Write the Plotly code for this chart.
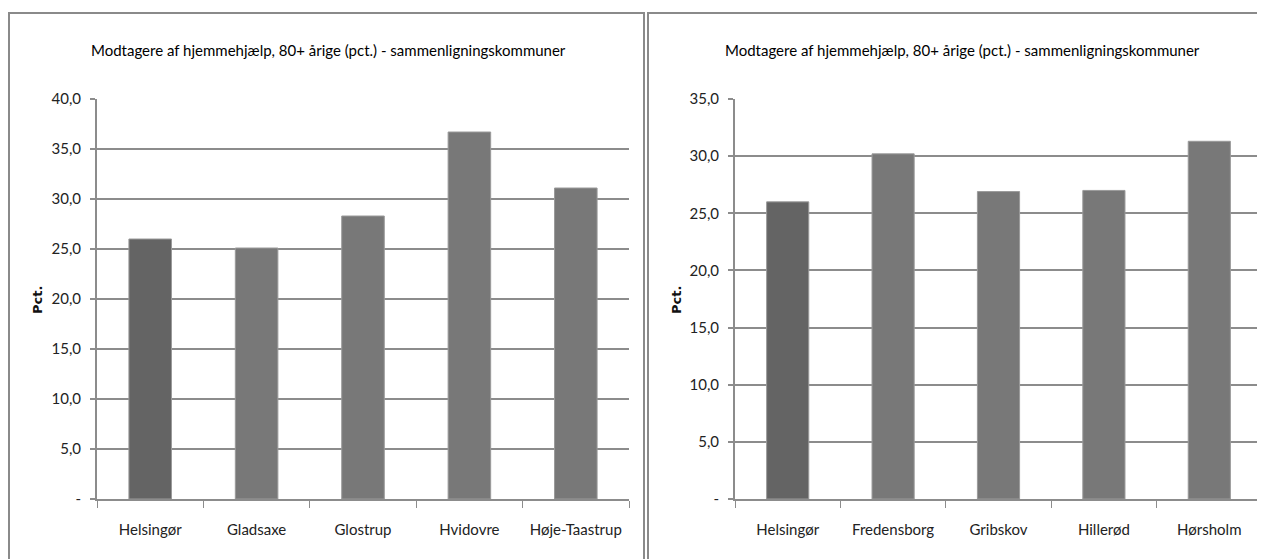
import plotly.graph_objects as go

# -------------------------------
# Data
# -------------------------------
title_text = "Modtagere af hjemmehjælp, 80+ årige (pct.) - sammenligningskommuner"

left_kommuner = ["Helsingør", "Gladsaxe", "Glostrup", "Hvidovre", "Høje-Taastrup"]
left_pct = [26.0, 25.1, 28.3, 36.7, 31.1]

right_kommuner = ["Helsingør", "Fredensborg", "Gribskov", "Hillerød", "Hørsholm"]
right_pct = [26.0, 30.2, 26.9, 27.0, 31.3]

left_ticks = [0, 5, 10, 15, 20, 25, 30, 35, 40]
left_ticktext = ["-", "5,0", "10,0", "15,0", "20,0", "25,0", "30,0", "35,0", "40,0"]
right_ticks = [0, 5, 10, 15, 20, 25, 30, 35]
right_ticktext = ["-", "5,0", "10,0", "15,0", "20,0", "25,0", "30,0", "35,0"]

# -------------------------------
# Style
# -------------------------------
# the page body has an 8px margin, so the figure is drawn 8px smaller and
# every screen position below is shifted by that amount
OFF = 8
W, H = 1265 - OFF, 559 - OFF
FONT = "Lato, Roboto, sans-serif"
GRID = "#8c8c8c"
BAR_DARK = "#646464"
BAR = "#787878"


def px_x(v):
    return (v - OFF) / W


def px_y(v):
    return 1 - (v - OFF) / H


fig = go.Figure()

fig.add_trace(go.Bar(
    x=left_kommuner, y=left_pct, xaxis="x", yaxis="y",
    marker=dict(color=[BAR_DARK] + [BAR] * (len(left_pct) - 1), line=dict(color="#9a9a9a", width=1)),
    showlegend=False, hoverinfo="x+y",
))
fig.add_trace(go.Bar(
    x=right_kommuner, y=right_pct, xaxis="x2", yaxis="y2",
    marker=dict(color=[BAR_DARK] + [BAR] * (len(right_pct) - 1), line=dict(color="#9a9a9a", width=1)),
    showlegend=False, hoverinfo="x+y",
))

ydom = [px_y(499), px_y(99)]

xcommon = dict(
    type="category", showline=True, linecolor=GRID, linewidth=2, automargin=False,
    ticks="outside", tickson="boundaries", ticklen=7, tickcolor=GRID, tickwidth=1,
    tickangle=0, ticklabelstandoff=16, tickfont=dict(family=FONT, size=15, color="#222"),
    showgrid=False, fixedrange=True,
)
ycommon = dict(
    showline=True, linecolor=GRID, linewidth=2, ticks="outside", ticklen=5, automargin=False,
    tickcolor=GRID, tickwidth=2, showgrid=True, gridcolor=GRID, gridwidth=2,
    ticklabelstandoff=6, tickfont=dict(family=FONT, size=15, color="#222"),
    zeroline=False, fixedrange=True,
)

fig.update_layout(
    width=W, height=H,
    margin=dict(l=0, r=0, t=0, b=0, autoexpand=False),
    paper_bgcolor="white", plot_bgcolor="white",
    bargap=0.6,
    xaxis=dict(domain=[px_x(97), px_x(629)], anchor="y", **xcommon),
    yaxis=dict(domain=ydom, anchor="x", range=[0, 40], tickvals=left_ticks,
               ticktext=left_ticktext, **ycommon),
    xaxis2=dict(domain=[px_x(735), px_x(1262)], anchor="y2", **xcommon),
    yaxis2=dict(domain=ydom, anchor="x2", range=[0, 35], tickvals=right_ticks,
                ticktext=right_ticktext, **ycommon),
)

# panel borders
fig.add_shape(type="rect", xref="paper", yref="paper",
              x0=px_x(9), x1=px_x(644), y0=px_y(575), y1=px_y(13),
              line=dict(color="#8a8a8a", width=2), layer="below")
fig.add_shape(type="rect", xref="paper", yref="paper",
              x0=px_x(648), x1=px_x(1280), y0=px_y(575), y1=px_y(13),
              line=dict(color="#8a8a8a", width=2), layer="below")

# titles and axis titles
for cx, ax in [(329, 37), (962, 676)]:
    fig.add_annotation(text=title_text, xref="paper", yref="paper",
                       x=px_x(cx), y=px_y(50), xanchor="center", yanchor="middle",
                       showarrow=False, font=dict(family=FONT, size=15, color="#000"))
    fig.add_annotation(text="<b>Pct.</b>", xref="paper", yref="paper",
                       x=px_x(ax), y=px_y(300), xanchor="center", yanchor="middle",
                       textangle=-90, showarrow=False,
                       font=dict(family="DejaVu Sans, Verdana, sans-serif", size=13, color="#111"))

fig.write_html("out.html")
